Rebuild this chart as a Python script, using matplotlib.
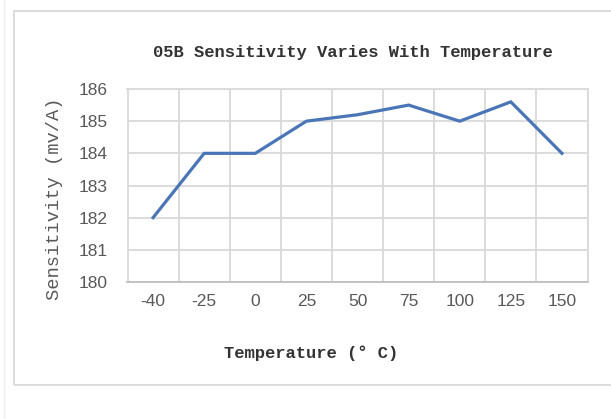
import matplotlib.pyplot as plt
import matplotlib
from matplotlib.patches import Rectangle
from matplotlib.lines import Line2D
import numpy as np

matplotlib.rcParams.update({
    "font.family": "Liberation Sans",
    "axes.linewidth": 1.2,
})

# sensitivity of the 05B part at each test temperature
temps = ["-40", "-25", "0", "25", "50", "75", "100", "125", "150"]
sensitivity = [182, 184, 184, 185, 185.2, 185.5, 185, 185.6, 184]
y_ticks = [180, 181, 182, 183, 184, 185, 186]

W, H = 611, 419
fig = plt.figure(figsize=(W / 100, H / 100), dpi=100)
fig.patch.set_facecolor("white")

# chart frame
fig.add_artist(Rectangle((13.5 / W, 1 - 385 / H), 0.99, (385 - 11) / H,
                         transform=fig.transFigure, fill=False,
                         edgecolor="#d9d9d9", linewidth=1.3))
fig.add_artist(Line2D([4 / W, 4 / W], [0, 1], transform=fig.transFigure,
                      color="#eeeeee", linewidth=1.0))

ax = fig.add_axes([127.5 / W, 1 - 282 / H, 460 / W, 193 / H])
x = np.arange(len(temps))
ax.plot(x, sensitivity, color="#4a76b8", linewidth=2.3, solid_joinstyle="miter",
        zorder=3)

ax.set_xlim(-0.5, len(temps) - 0.5)
ax.set_ylim(y_ticks[0], y_ticks[-1])
ax.set_xticks(x)
ax.set_xticklabels(temps)
ax.set_yticks(y_ticks)
ax.set_xticks(np.arange(-0.5, len(temps)), minor=True)

grid_c = "#d9d9d9"
ax.grid(True, axis="y", which="major", color=grid_c, linewidth=1.3)
ax.grid(True, axis="x", which="minor", color=grid_c, linewidth=1.3)
for s in ax.spines.values():
    s.set_color(grid_c)
    s.set_linewidth(1.3)
ax.spines["bottom"].set_color("#bfbfbf")
ax.set_axisbelow(True)

ax.tick_params(axis="both", which="both", length=0, labelsize=12.5,
               labelcolor="#595959")
ax.tick_params(axis="x", pad=9)
ax.tick_params(axis="y", pad=14)

fig.text(353 / W, 1 - 52 / H, "05B Sensitivity Varies With Temperature",
         ha="center", va="center", fontsize=12.3, family="Liberation Mono",
         weight="bold", color="#333333")
fig.text(311 / W, 1 - 353 / H, "Temperature (° C)", ha="center", va="center",
         fontsize=12.3, family="Liberation Mono", weight="bold",
         color="#333333")
fig.text(55 / W, 1 - 199 / H, "Sensitivity (mv/A)", ha="center", va="center",
         rotation=90, fontsize=13.5, family="Liberation Mono", color="#595959")

fig.savefig("out.png", dpi=100)
